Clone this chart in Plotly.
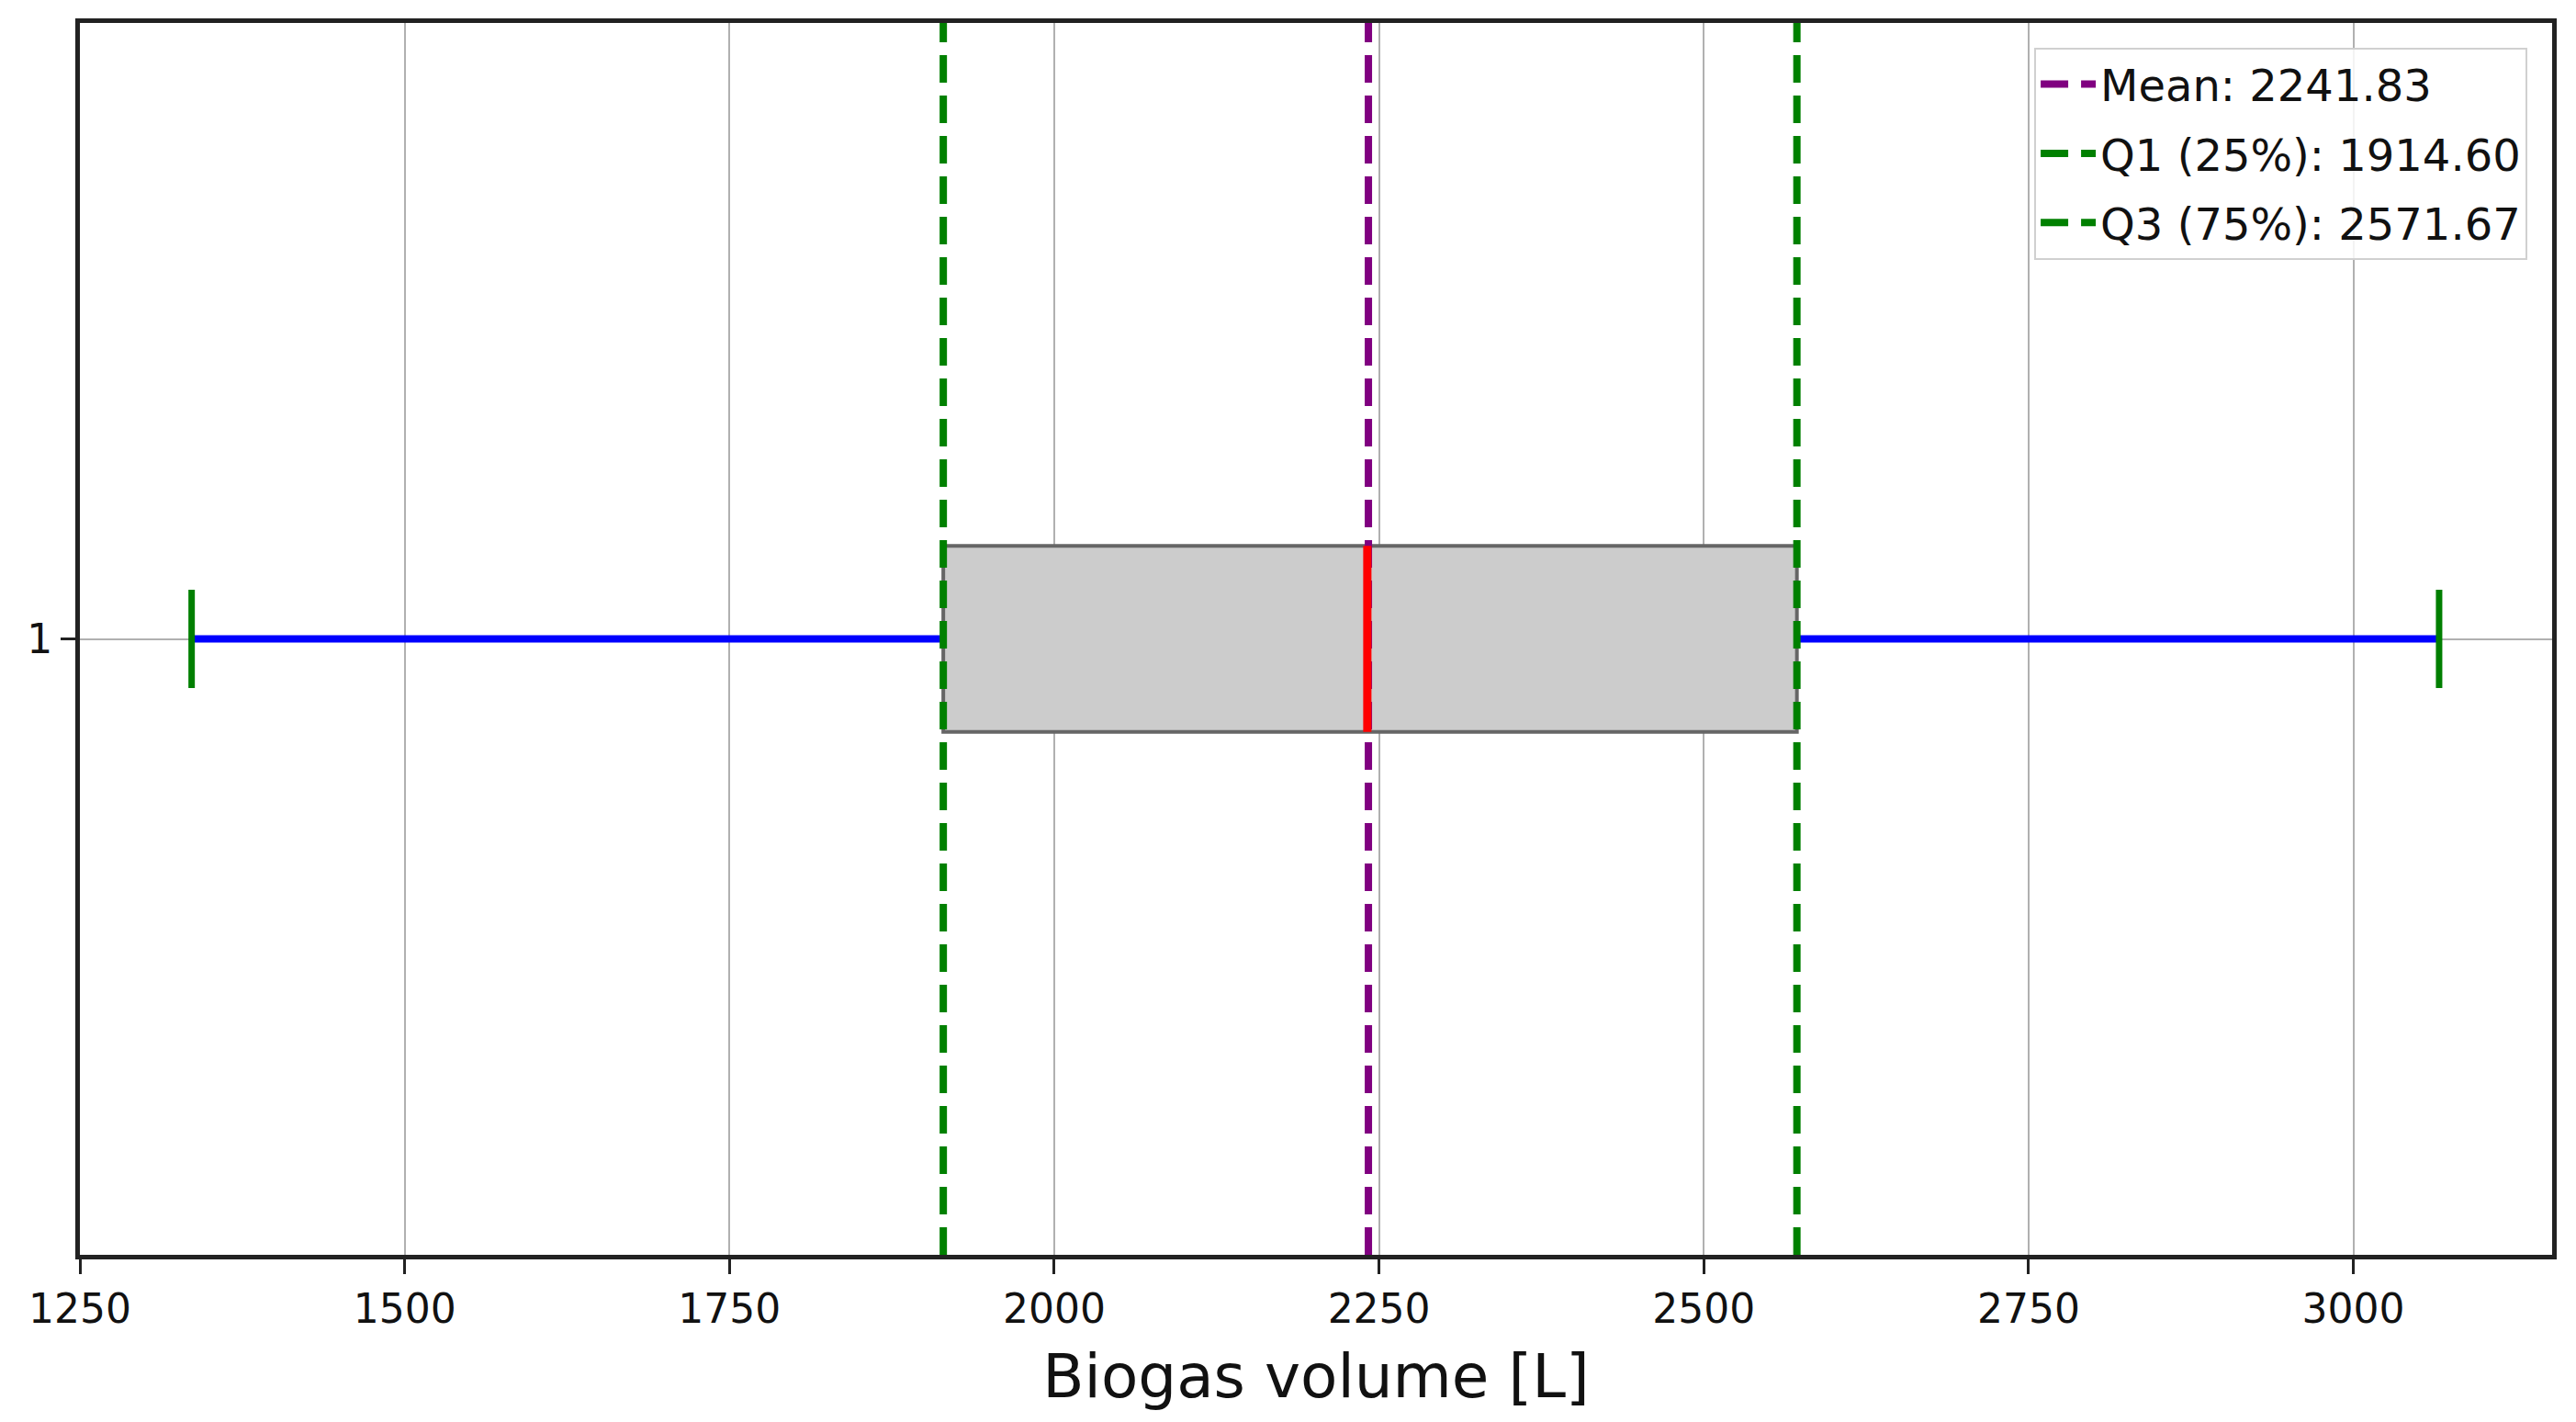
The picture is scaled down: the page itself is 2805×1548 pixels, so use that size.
import plotly.graph_objects as go

# Summary statistics of the biogas volume sample
box_position = [1]
mean_value = [2241.83]
q1_value = [1914.60]
q3_value = [2571.67]
median_value = [2241.0]
whisker_low = [1336.0]
whisker_high = [3066.0]

legend_labels = ["Mean: 2241.83", "Q1 (25%): 1914.60", "Q3 (75%): 2571.67"]
x_ticks = [1250, 1500, 1750, 2000, 2250, 2500, 2750, 3000]

X_RANGE = [1250, 3153]
Y_RANGE = [1 - 1.655, 1 + 1.655]
BOX_WIDTH = 0.5
CAP_HALF = 0.132
FONT = "DejaVu Sans"


def vline(x, color, name):
    return go.Scatter(
        x=[x, x], y=Y_RANGE, mode="lines", name=name, legendgroup=name,
        line=dict(color=color, width=8, dash="30px,14px"),
        hoverinfo="skip",
    )


def main():

    fig = go.Figure()

    # box body
    fig.add_trace(go.Box(
        y=box_position, q1=q1_value, median=median_value, q3=q3_value,
        lowerfence=q1_value, upperfence=q3_value,
        orientation="h", width=BOX_WIDTH,
        fillcolor="#cccccc", line=dict(color="#666666", width=4),
        showlegend=False, hoverinfo="skip",
    ))

    # whiskers
    y0 = box_position[0]
    fig.add_trace(go.Scatter(
        x=[whisker_low[0], q1_value[0]], y=[y0, y0], mode="lines",
        line=dict(color="#0000ff", width=8), showlegend=False))
    fig.add_trace(go.Scatter(
        x=[q3_value[0], whisker_high[0]], y=[y0, y0], mode="lines",
        line=dict(color="#0000ff", width=8), showlegend=False))

    # caps
    for xv in (whisker_low[0], whisker_high[0]):
        fig.add_trace(go.Scatter(
            x=[xv, xv], y=[y0 - CAP_HALF, y0 + CAP_HALF], mode="lines",
            line=dict(color="#007f00", width=7), showlegend=False))

    # mean / quartile lines
    fig.add_trace(vline(mean_value[0], "#800080", legend_labels[0]))
    fig.add_trace(vline(q1_value[0], "#008000", legend_labels[1]))
    fig.add_trace(vline(q3_value[0], "#008000", legend_labels[2]))

    # median
    fig.add_trace(go.Scatter(
        x=[median_value[0], median_value[0]],
        y=[y0 - BOX_WIDTH / 2, y0 + BOX_WIDTH / 2], mode="lines",
        line=dict(color="#ff0000", width=9), showlegend=False))

    axis_common = dict(
        showline=True, linecolor="#222222", linewidth=5, mirror=True,
        ticks="outside", ticklen=16, tickwidth=3, tickcolor="#222222",
        showgrid=True, gridcolor="#b0b0b0", gridwidth=2, zeroline=False,
        tickfont=dict(family=FONT, size=44, color="#111111"),
    )

    fig.update_xaxes(
        range=X_RANGE, tickvals=x_ticks,
        title=dict(text="Biogas volume [L]", standoff=28,
                   font=dict(family=FONT, size=66, color="#111111")),
        **axis_common,
    )
    fig.update_yaxes(range=Y_RANGE, tickvals=box_position, ticktext=["1"], **axis_common)

    fig.update_layout(
        width=2805, height=1548,
        margin=dict(l=79, r=34, t=15, b=190),
        plot_bgcolor="white", paper_bgcolor="white",
        font=dict(family=FONT, color="#111111"),
        legend=dict(
            x=0.99, y=0.98, xanchor="right", yanchor="top",
            bgcolor="rgba(255,255,255,0.85)", bordercolor="#d0d0d0", borderwidth=2,
            font=dict(family=FONT, size=48, color="#111111"),
            traceorder="grouped", tracegroupgap=10,
            itemwidth=60,
        ),
    )

    fig.write_html("out.html")


if "__main__" == __name__:
    main()
